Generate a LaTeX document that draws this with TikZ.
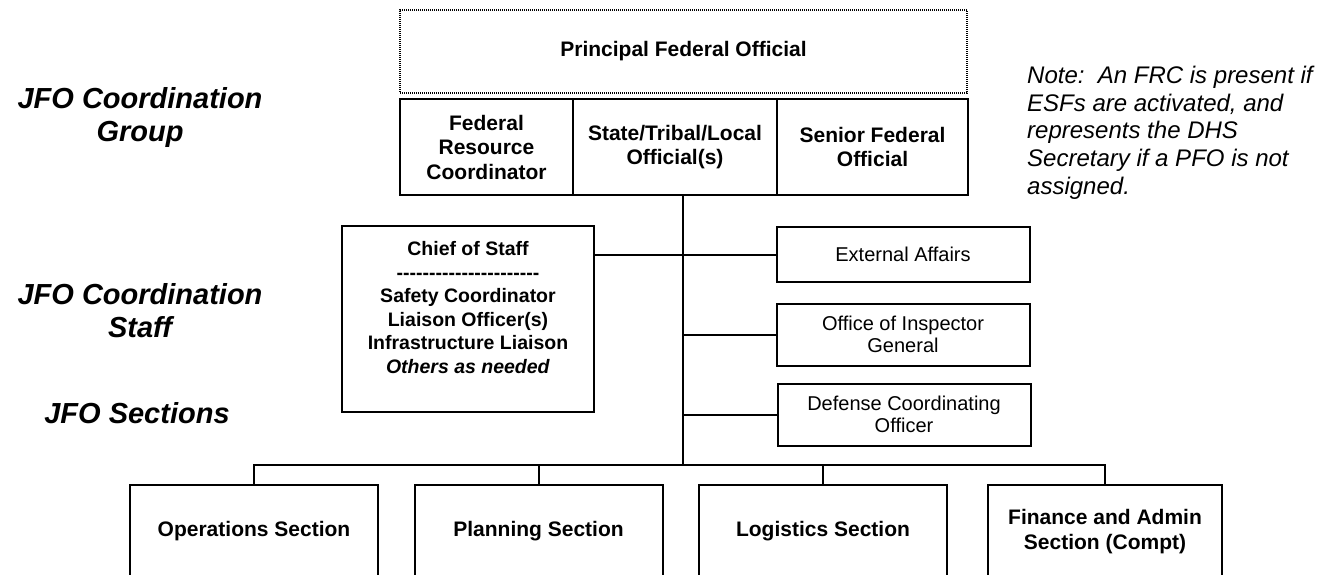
\documentclass[tikz,border=0pt]{standalone}
\usepackage{fontspec}
\setmainfont{Liberation Sans}
\usetikzlibrary{positioning}

\newcommand{\sepdashes}{\foreach \i in {1,...,22}{-}}

\tikzset{
	unit/.style={draw, line width=2pt, outer sep=0pt, inner sep=2pt, align=center,
		font=\bfseries\fontsize{21}{24.5}\selectfont},
	office/.style={unit, minimum width=253pt, minimum height=62pt,
		font=\fontsize{20}{22.5}\selectfont},
	sectbox/.style={unit, anchor=north, minimum width=248pt, minimum height=93pt},
	tier/.style={align=center, inner sep=0pt, anchor=north,
		font=\bfseries\itshape\fontsize{29}{33}\selectfont},
	link/.style={line width=2pt}
}

\begin{document}
\begin{tikzpicture}[x=1pt,y=-1pt]
		
		\useasboundingbox (0,0) rectangle (1317,575);
		
		% Coordination group
		\node[draw, dash pattern=on 1pt off 1pt, line width=1.2pt,
		minimum width=567pt, minimum height=83pt,
		font=\bfseries\fontsize{21}{24.5}\selectfont] (pfo) at (683.5,51.5)
		{Principal Federal Official};
		\node[unit, minimum width=173pt, minimum height=96pt] (frc) at (486.5,147)
		{Federal\\Resource\\Coordinator};
		\node[unit, minimum width=204pt, minimum height=96pt, right=0pt of frc] (stl)
		{State/Tribal/Local\\Official(s)};
		\node[unit, minimum width=191pt, minimum height=96pt, right=0pt of stl] (sfo)
		{Senior Federal\\Official};
		
		% Coordination staff
		\node[unit, minimum width=252pt, minimum height=186pt,
		font=\bfseries\fontsize{19.5}{23.5}\selectfont] (cos) at (468,319)
		{Chief of Staff\\\sepdashes\\Safety Coordinator\\Liaison Officer(s)\\
			Infrastructure Liaison\\\textit{Others as needed}\\ \mbox{}};
		\node[office, minimum height=55pt] (ea) at (903,254.5) {External Affairs};
		\node[office] (oig) at (903,334.5) {Office of Inspector\\General};
		\node[office] (dco) at (904,414.5) {Defense Coordinating\\Officer};
		
		% Sections
		\coordinate (bus) at (683,465);
		\node[sectbox] (ops) at (254,485) {Operations Section};
		\node[sectbox] (plan) at (538.5,485) {Planning Section};
		\node[sectbox] (logi) at (823,485) {Logistics Section};
		\node[sectbox, minimum width=234pt] (fin) at (1105,485)
		{Finance and Admin\\Section (Compt)};
		
		% Connectors
		\draw[link] (bus |- stl.south) -- (bus);
		\draw[link] (cos.east |- ea.west) -- (ea.west);
		\draw[link] (bus |- oig.west) -- (oig.west);
		\draw[link] (bus |- dco.west) -- (dco.west);
		\draw[link] (ops.north) -- (ops.north |- bus) -- (fin.north |- bus) -- (fin.north);
		\foreach \s in {plan,logi}
		\draw[link] (\s.north |- bus) -- (\s.north);
		
		% Tier labels
		\node[tier] (grp) at (140,87) {JFO Coordination\\Group};
		\node[tier] (stf) at (140,283) {JFO Coordination\\Staff};
		\node[tier, anchor=base] (sec) at (137,423) {JFO Sections};
		
		% Note
		\node[align=left, anchor=north west, inner sep=0pt,
		font=\itshape\fontsize{24}{27.7}\selectfont] (note) at (1027,66)
		{Note:\ \ An FRC is present if\\ESFs are activated, and\\represents the DHS\\
			Secretary if a PFO is not\\assigned.};
		
	\end{tikzpicture}
\end{document}
